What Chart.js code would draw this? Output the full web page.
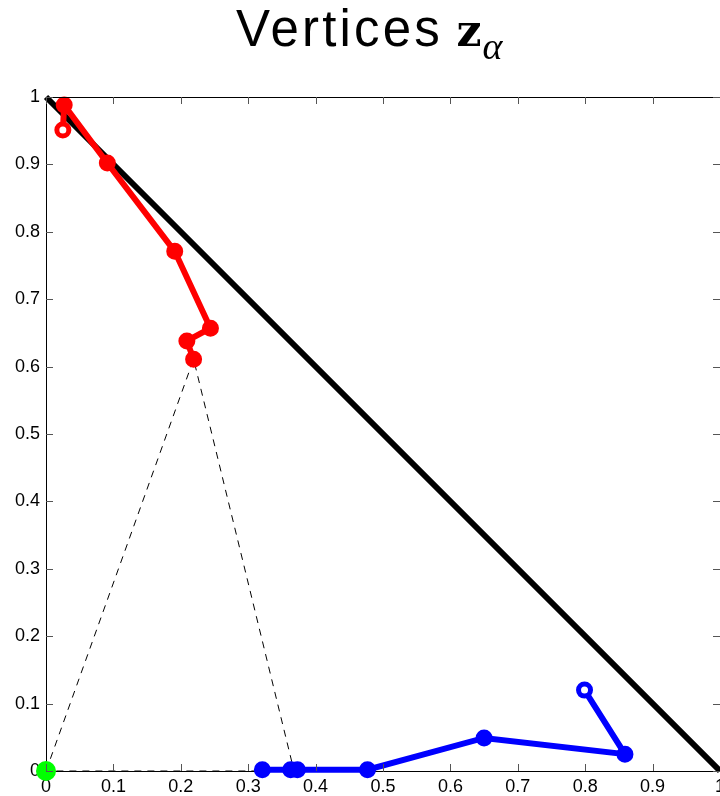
<!DOCTYPE html>
<html>
<head>
<meta charset="utf-8">
<script src="https://cdn.jsdelivr.net/npm/chart.js@4/dist/chart.umd.min.js"></script>
<style>
  html, body { margin: 0; padding: 0; background: #fff; }
  #wrap { position: relative; width: 720px; height: 796px; overflow: hidden; }
  #title {
    position: absolute; left: 236px; top: 4px; white-space: nowrap;
    font-family: "Liberation Sans", Arial, sans-serif; font-size: 51px; line-height: 50px;
    letter-spacing: 3.2px; color: #000;
  }
  #title .z { font-family: "DejaVu Serif", serif; font-weight: bold; font-size: 44px; letter-spacing: 0; margin-left: -4px; }
  #title .a { font-family: "Liberation Serif", serif; font-style: italic; font-size: 38px; letter-spacing: 0; position: relative; top: 13px; margin-left: 1px; }
  canvas { position: absolute; left: 0; top: 0; }
</style>
</head>
<body>
<div id="wrap">
  <canvas id="chart" width="720" height="796"></canvas>
  <div id="title">Vertices <span class="z">z</span><span class="a">α</span></div>
</div>
<script>
// данные
const tickValues = [0, 0.1, 0.2, 0.3, 0.4, 0.5, 0.6, 0.7, 0.8, 0.9, 1];

const simplexX = [0, 1];
const simplexY = [1, 0];

const redX = [0.025, 0.027, 0.091, 0.191, 0.244, 0.209, 0.219];
const redY = [0.951, 0.988, 0.902, 0.771, 0.657, 0.638, 0.611];

const blueX = [0.799, 0.859, 0.650, 0.477, 0.373, 0.363, 0.321];
const blueY = [0.120, 0.025, 0.049, 0.002, 0.002, 0.002, 0.002];

const dashX = [0, 0.219, 0.368, 0];
const dashY = [0, 0.611, 0, 0];

const originX = [0];
const originY = [0];

function pts(xs, ys) {
    return xs.map((x, i) => ({ x: x, y: ys[i] }));
}

// открытый кружок только у первой точки
function openFirst(color) {
    return ctx => ctx.dataIndex === 0 ? '#fff' : color;
}

// засечки внутрь со всех четырёх сторон + верхняя рамка
const innerTicks = {
    id: 'innerTicks',
    afterDatasetsDraw(chart) {
        const c = chart.ctx;
        const a = chart.chartArea;
        const xs = chart.scales.x, ys = chart.scales.y;
        c.save();
        c.strokeStyle = '#000';
        c.lineWidth = 1;
        c.beginPath();
        c.moveTo(a.left, a.top + 0.5);
        c.lineTo(a.right, a.top + 0.5);
        c.stroke();
        c.strokeStyle = '#555';
        c.beginPath();
        tickValues.forEach(v => {
            const px = Math.round(xs.getPixelForValue(v)) + 0.5;
            c.moveTo(px, a.bottom); c.lineTo(px, a.bottom - 7);
            c.moveTo(px, a.top); c.lineTo(px, a.top + 7);
            const py = Math.round(ys.getPixelForValue(v)) + 0.5;
            c.moveTo(a.left, py); c.lineTo(a.left + 7, py);
            c.moveTo(a.right, py); c.lineTo(a.right - 7, py);
        });
        c.stroke();
        c.restore();
    }
};

Chart.defaults.font.family = '"Liberation Sans", Arial, sans-serif';
Chart.defaults.color = '#000';

new Chart(document.getElementById('chart'), {
    type: 'scatter',
    data: {
        datasets: [
            {
                data: pts(dashX, dashY),
                showLine: true,
                borderColor: '#000',
                borderWidth: 1,
                borderDash: [7, 6],
                pointRadius: 0,
                clip: false,
                order: 5
            },
            {
                data: pts(simplexX, simplexY),
                showLine: true,
                borderColor: '#000',
                borderWidth: 6,
                pointRadius: 0,
                clip: false,
                order: 4
            },
            {
                data: pts(redX, redY),
                showLine: true,
                borderColor: '#ff0000',
                borderWidth: 6,
                pointRadius: 6,
                pointBorderWidth: 5,
                pointBorderColor: '#ff0000',
                pointBackgroundColor: openFirst('#ff0000'),
                clip: false,
                order: 3
            },
            {
                data: pts(blueX, blueY),
                showLine: true,
                borderColor: '#0000ff',
                borderWidth: 6,
                pointRadius: 6,
                pointBorderWidth: 5,
                pointBorderColor: '#0000ff',
                pointBackgroundColor: openFirst('#0000ff'),
                clip: false,
                order: 2
            },
            {
                data: pts(originX, originY),
                pointRadius: 10,
                pointBorderWidth: 0,
                pointBackgroundColor: '#00ff00',
                clip: false,
                order: 1
            }
        ]
    },
    options: {
        responsive: false,
        animation: false,
        layout: { autoPadding: false, padding: { top: 97, left: 0, right: -1, bottom: 0 } },
        plugins: {
            legend: { display: false },
            tooltip: { enabled: false }
        },
        scales: {
            x: {
                type: 'linear',
                min: 0,
                max: 1,
                afterFit: s => { s.height = 25; s.paddingLeft = 0; s.paddingRight = 0; },
                afterBuildTicks: s => { s.ticks = tickValues.map(v => ({ value: v })); },
                grid: { display: false, drawTicks: false },
                border: { display: true, color: '#000', width: 1 },
                ticks: {
                    padding: 5,
                    maxRotation: 0,
                    autoSkip: false,
                    font: { size: 18 },
                    callback: v => String(v)
                }
            },
            y: {
                type: 'linear',
                min: 0,
                max: 1,
                afterFit: s => { s.width = 46; s.paddingTop = 0; s.paddingBottom = 0; },
                afterBuildTicks: s => { s.ticks = tickValues.map(v => ({ value: v })); },
                grid: { display: false, drawTicks: false },
                border: { display: true, color: '#000', width: 1 },
                ticks: {
                    padding: 6,
                    autoSkip: false,
                    font: { size: 18 },
                    callback: v => String(v)
                }
            }
        }
    },
    plugins: [innerTicks]
});
</script>
</body>
</html>
